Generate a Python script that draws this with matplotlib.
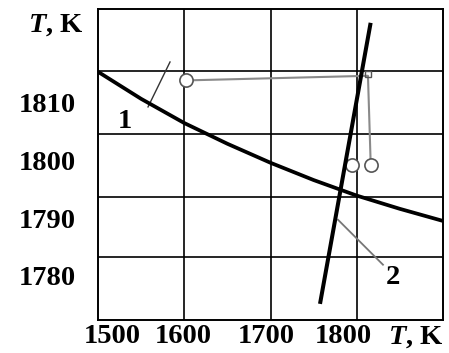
"""
T-T diagram with curves 1 and 2 (bold serif labels, grid)
"""
import matplotlib
matplotlib.use('Agg')
import matplotlib.pyplot as plt

plt.rcParams['font.family'] = 'Liberation Serif'
plt.rcParams['font.weight'] = 'bold'
plt.rcParams['mathtext.fontset'] = 'custom'
plt.rcParams['mathtext.it'] = 'Liberation Serif:italic:bold'
plt.rcParams['mathtext.rm'] = 'Liberation Serif:bold'

# curve 1 (falling line)
curve1_x = [1500, 1550, 1600, 1650, 1700, 1750, 1800, 1850, 1900]
curve1_y = [1815.4, 1810.7, 1806.5, 1802.9, 1799.6, 1796.6, 1793.9, 1791.6, 1789.5]

# curve 2 (steep line)
curve2_x = [1757.4, 1816.1]
curve2_y = [1775.1, 1823.9]

# grey path with open circles
path_x = [1602.0, 1813.0, 1816.2]
path_y = [1813.9, 1814.7, 1799.2]
circle_x = [1602.0, 1794.1, 1816.2]
circle_y = [1813.9, 1799.2, 1799.2]
corner_x = [1813.0]
corner_y = [1815.0]

# leader lines and labels
lead1_x = [1583.5, 1558.0]
lead1_y = [1817.1, 1809.3]
lead2_x = [1778.3, 1830.4]
lead2_y = [1789.7, 1781.9]

# axis ticks
xtick_pos = [1516.9, 1598.6, 1694.8, 1784.6, 1868.0]
xtick_lab = ['1500', '1600', '1700', '1800', '$T$, K']
ytick_pos = [1810, 1800, 1790, 1780]
ytick_lab = ['1810', '1800', '1790', '1780']
xgrid = [1600, 1700, 1800]
ygrid = [1815.5, 1804.6, 1793.7, 1783.2]

fig = plt.figure(figsize=(4.49, 3.53), dpi=100)
ax = fig.add_axes([98 / 449, 33 / 353, 345 / 449, 311 / 353])
ax.set_xlim(1500, 1900)
ax.set_ylim(1772.3, 1826.3)

fs = 20.5
ax.set_xticks(xtick_pos)
ax.set_xticklabels(xtick_lab, fontsize=fs, fontweight='bold')
ax.set_yticks(ytick_pos)
ax.set_yticklabels(ytick_lab, fontsize=fs, fontweight='bold')
ax.set_xticks(xgrid, minor=True)
ax.set_yticks(ygrid, minor=True)
ax.tick_params(which='both', length=0)
ax.tick_params(axis='x', pad=3)
ax.tick_params(axis='y', pad=16)
ax.grid(which='minor', color='black', linewidth=1.2)
ax.grid(which='major', visible=False)
for s in ax.spines.values():
    s.set_linewidth(1.4)

ax.plot(curve1_x, curve1_y, color='black', linewidth=2.7, solid_joinstyle='round',
        solid_capstyle='butt', zorder=4)
ax.plot(curve2_x, curve2_y, color='black', linewidth=2.9, solid_capstyle='butt', zorder=4)

ax.plot(path_x, path_y, color='#8a8a8a', linewidth=1.5, zorder=3)
ax.plot(corner_x, corner_y, marker='s', markersize=4.5, markerfacecolor='none',
        markeredgecolor='#555555', markeredgewidth=1.0, linestyle='none', zorder=3)
ax.plot(circle_x, circle_y, marker='o', markersize=9.5, markerfacecolor='white',
        markeredgecolor='#555555', markeredgewidth=1.2, linestyle='none', zorder=3)

ax.plot(lead1_x, lead1_y, color='#333333', linewidth=1.0, zorder=3)
ax.plot(lead2_x, lead2_y, color='#777777', linewidth=1.3, zorder=3)
ax.text(1531.3, 1806.7, '1', fontsize=fs, fontweight='bold', ha='center', va='center')
ax.text(1842.0, 1779.6, '2', fontsize=fs, fontweight='bold', ha='center', va='center')

ax.text(1451.3, 1823.5, '$T$, K', fontsize=fs, fontweight='bold',
        ha='center', va='center', clip_on=False)

fig.savefig('out.png', dpi=100, facecolor='white')
